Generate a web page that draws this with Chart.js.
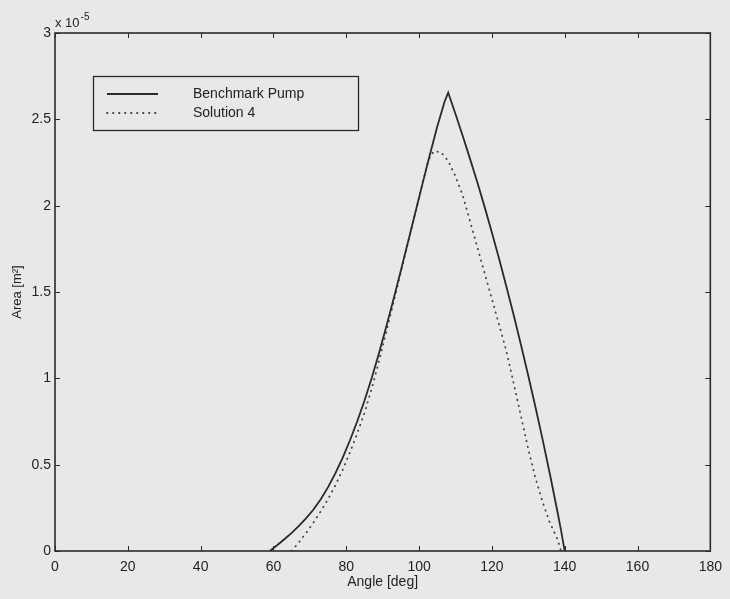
<!DOCTYPE html>
<html>
<head>
<meta charset="utf-8">
<script src="https://cdn.jsdelivr.net/npm/chart.js@4.4.1/dist/chart.umd.min.js"></script>
<style>
  html, body { margin: 0; padding: 0; background: #e8e8e8; }
  #wrap { width: 730px; height: 599px; }
</style>
</head>
<body>
<div id="wrap"><canvas id="c" width="730" height="599"></canvas></div>
<script>
// Orifice area versus shaft angle (area in units of 1e-5 m^2)
const benchAngle = [59, 61, 63, 65, 67, 69, 71, 73, 75, 77, 79, 81, 83, 85, 87, 89, 91, 93, 95, 97, 99, 101, 103, 105, 107, 108,
                    110, 112, 114, 116, 118, 120, 122, 124, 126, 128, 130, 132, 134, 136, 138, 139, 140];
const benchArea  = [0, 0.033, 0.068, 0.105, 0.145, 0.19, 0.24, 0.30, 0.37, 0.45, 0.54, 0.64, 0.75, 0.87, 1.002, 1.146, 1.30, 1.46, 1.624, 1.792, 1.962, 2.132, 2.298, 2.458, 2.602, 2.655,
                    2.531, 2.403, 2.271, 2.135, 1.993, 1.845, 1.691, 1.531, 1.365, 1.193, 1.015, 0.831, 0.639, 0.439, 0.229, 0.119, 0];

const solAngle = [65, 67, 69, 71, 73, 75, 77, 79, 81, 83, 85, 87, 89, 91, 93, 95, 97, 99, 101, 102.5, 104, 106, 108,
                  110, 112, 114, 116, 118, 120, 122, 124, 126, 128, 130, 132, 134, 136, 138, 139];
const solArea  = [0, 0.05, 0.105, 0.165, 0.23, 0.30, 0.38, 0.47, 0.57, 0.68, 0.80, 0.94, 1.10, 1.27, 1.44, 1.615, 1.79, 1.962, 2.132, 2.26, 2.315, 2.31, 2.26,
                  2.17, 2.06, 1.91, 1.76, 1.61, 1.46, 1.31, 1.155, 0.97, 0.78, 0.59, 0.42, 0.28, 0.16, 0.07, 0];

const xTickValues = [0, 20, 40, 60, 80, 100, 120, 140, 160, 180];
const yTickValues = [0, 0.5, 1, 1.5, 2, 2.5, 3];
const seriesNames = ['Benchmark Pump', 'Solution 4'];
const xTitle = 'Angle [deg]';
const yTitle = 'Area [m²]';
const expBase = 'x 10';
const expPower = '-5';

const FONT = '"Liberation Sans", Arial, Helvetica, sans-serif';
const INK = '#222222';

const toPoints = (xs, ys) => xs.map((x, i) => ({ x: x, y: ys[i] }));

// Box frame, inward tick marks on all four sides, exponent label and legend
const framePlugin = {
  id: 'frame',
  beforeDraw(chart) {
    const ctx = chart.ctx;
    ctx.save();
    ctx.fillStyle = '#e8e8e8';
    ctx.fillRect(0, 0, chart.width, chart.height);
    ctx.restore();
  },
  afterDraw(chart) {
    const { ctx, chartArea: a, scales } = chart;
    const tl = 5;
    ctx.save();
    ctx.strokeStyle = '#2a2a2a';
    ctx.lineWidth = 1.6;
    ctx.strokeRect(a.left, a.top, a.right - a.left, a.bottom - a.top);
    ctx.lineWidth = 1;
    ctx.beginPath();
    xTickValues.forEach(v => {
      const px = Math.round(scales.x.getPixelForValue(v)) + 0.5;
      ctx.moveTo(px, a.bottom); ctx.lineTo(px, a.bottom - tl);
      ctx.moveTo(px, a.top); ctx.lineTo(px, a.top + tl);
    });
    yTickValues.forEach(v => {
      const py = Math.round(scales.y.getPixelForValue(v)) + 0.5;
      ctx.moveTo(a.left, py); ctx.lineTo(a.left + tl, py);
      ctx.moveTo(a.right, py); ctx.lineTo(a.right - tl, py);
    });
    ctx.stroke();

    // exponent of the y axis
    ctx.fillStyle = INK;
    ctx.textBaseline = 'alphabetic';
    ctx.textAlign = 'left';
    ctx.font = '13px ' + FONT;
    ctx.fillText(expBase, a.left, a.top - 6);
    const w = ctx.measureText(expBase).width;
    ctx.font = '10px ' + FONT;
    ctx.fillText(expPower, a.left + w + 1, a.top - 13);

    // legend
    const lx = 93, ly = 76, lw = 265, lh = 54;
    ctx.strokeStyle = '#2a2a2a';
    ctx.lineWidth = 1.3;
    ctx.strokeRect(lx + 0.5, ly + 0.5, lw, lh);
    const rows = [94, 113];
    chart.data.datasets.forEach((ds, i) => {
      ctx.beginPath();
      ctx.strokeStyle = ds.borderColor;
      ctx.lineWidth = ds.borderWidth;
      ctx.lineCap = ds.borderCapStyle || 'butt';
      ctx.setLineDash(ds.borderDash || []);
      ctx.moveTo(107, rows[i]);
      ctx.lineTo(158, rows[i]);
      ctx.stroke();
      ctx.setLineDash([]);
      ctx.fillStyle = INK;
      ctx.font = '14px ' + FONT;
      ctx.textBaseline = 'middle';
      ctx.fillText(ds.label, 193, rows[i]);
    });
    ctx.restore();
  }
};

new Chart(document.getElementById('c'), {
  type: 'line',
  data: {
    datasets: [
      {
        label: seriesNames[0],
        data: toPoints(benchAngle, benchArea),
        borderColor: '#2a2a2a',
        borderWidth: 1.8,
        pointRadius: 0,
        tension: 0,
        fill: false
      },
      {
        label: seriesNames[1],
        data: toPoints(solAngle, solArea),
        borderColor: '#444444',
        borderWidth: 1.8,
        borderDash: [0.5, 5.5],
        borderCapStyle: 'round',
        pointRadius: 0,
        tension: 0,
        fill: false
      }
    ]
  },
  options: {
    responsive: false,
    animation: false,
    devicePixelRatio: 1,
    layout: { padding: { left: 0, top: 33, right: 14, bottom: 0 } },
    plugins: { legend: { display: false }, tooltip: { enabled: false } },
    scales: {
      x: {
        type: 'linear',
        min: 0, max: 180,
        afterBuildTicks: s => { s.ticks = xTickValues.map(v => ({ value: v })); },
        afterFit: s => { s.height = 48; },
        grid: { display: false, drawTicks: false },
        border: { display: false },
        ticks: { font: { family: FONT, size: 14 }, color: INK, padding: 8, maxRotation: 0 },
        title: { display: true, text: xTitle, font: { family: FONT, size: 14 }, color: INK, padding: { top: 0, bottom: 8 } }
      },
      y: {
        type: 'linear',
        min: 0, max: 3,
        afterBuildTicks: s => { s.ticks = yTickValues.map(v => ({ value: v })); },
        afterFit: s => { s.width = 55; },
        grid: { display: false, drawTicks: false },
        border: { display: false },
        ticks: { font: { family: FONT, size: 14 }, color: INK, padding: 4, callback: v => String(v) },
        title: { display: true, text: yTitle, font: { family: FONT, size: 13 }, color: INK, padding: { top: 10, bottom: 0 } }
      }
    }
  },
  plugins: [framePlugin]
});
</script>
</body>
</html>
